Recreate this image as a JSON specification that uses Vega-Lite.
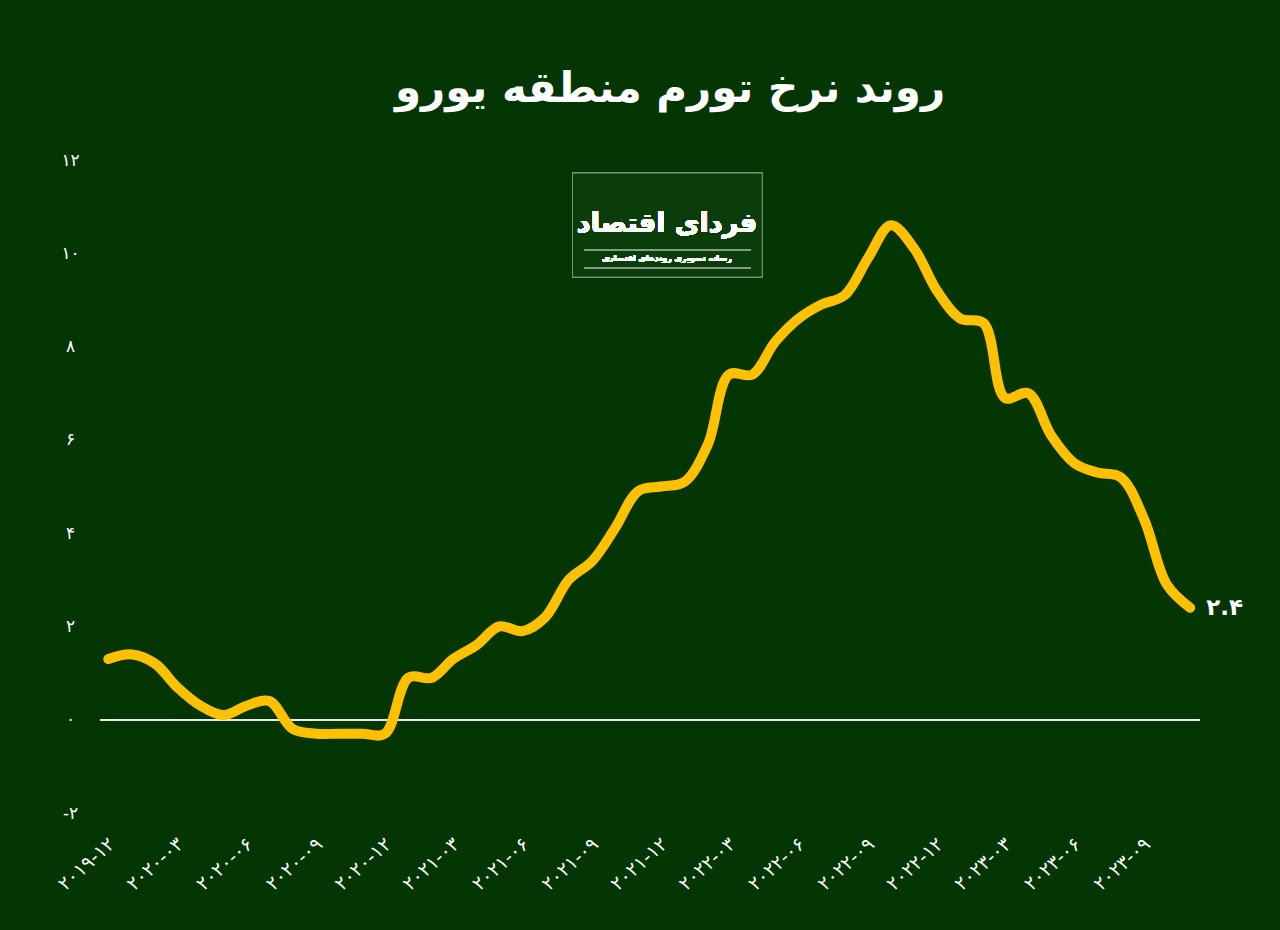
{
  "$schema": "https://vega.github.io/schema/vega-lite/v6.json",
  "width": 1100,
  "height": 653,
  "autosize": {"type": "none"},
  "padding": {"left": 100, "top": 160, "right": 80, "bottom": 117},
  "background": "#033603",
  "title": {
    "text": "روند نرخ تورم منطقه یورو",
    "font": "DejaVu Sans",
    "fontSize": 42,
    "fontWeight": "bold",
    "color": "#ffffff",
    "anchor": "middle",
    "offset": 40,
    "dx": 20
  },
  "config": {
    "view": {"stroke": null}
  },
  "data": {
    "values": [
      {"month": "2019-12-01", "value": 1.3},
      {"month": "2020-01-01", "value": 1.4},
      {"month": "2020-02-01", "value": 1.2},
      {"month": "2020-03-01", "value": 0.7},
      {"month": "2020-04-01", "value": 0.3},
      {"month": "2020-05-01", "value": 0.1},
      {"month": "2020-06-01", "value": 0.3},
      {"month": "2020-07-01", "value": 0.4},
      {"month": "2020-08-01", "value": -0.2},
      {"month": "2020-09-01", "value": -0.3},
      {"month": "2020-10-01", "value": -0.3},
      {"month": "2020-11-01", "value": -0.3},
      {"month": "2020-12-01", "value": -0.3},
      {"month": "2021-01-01", "value": 0.9},
      {"month": "2021-02-01", "value": 0.9},
      {"month": "2021-03-01", "value": 1.3},
      {"month": "2021-04-01", "value": 1.6},
      {"month": "2021-05-01", "value": 2.0},
      {"month": "2021-06-01", "value": 1.9},
      {"month": "2021-07-01", "value": 2.2},
      {"month": "2021-08-01", "value": 3.0},
      {"month": "2021-09-01", "value": 3.4},
      {"month": "2021-10-01", "value": 4.1},
      {"month": "2021-11-01", "value": 4.9},
      {"month": "2021-12-01", "value": 5.0},
      {"month": "2022-01-01", "value": 5.1},
      {"month": "2022-02-01", "value": 5.9},
      {"month": "2022-03-01", "value": 7.4},
      {"month": "2022-04-01", "value": 7.4},
      {"month": "2022-05-01", "value": 8.1},
      {"month": "2022-06-01", "value": 8.6},
      {"month": "2022-07-01", "value": 8.9},
      {"month": "2022-08-01", "value": 9.1},
      {"month": "2022-09-01", "value": 9.9},
      {"month": "2022-10-01", "value": 10.6},
      {"month": "2022-11-01", "value": 10.1},
      {"month": "2022-12-01", "value": 9.2},
      {"month": "2023-01-01", "value": 8.6},
      {"month": "2023-02-01", "value": 8.5},
      {"month": "2023-03-01", "value": 6.9},
      {"month": "2023-04-01", "value": 7.0},
      {"month": "2023-05-01", "value": 6.1},
      {"month": "2023-06-01", "value": 5.5},
      {"month": "2023-07-01", "value": 5.3},
      {"month": "2023-08-01", "value": 5.2},
      {"month": "2023-09-01", "value": 4.3},
      {"month": "2023-10-01", "value": 2.9},
      {"month": "2023-11-01", "value": 2.4}
    ]
  },
  "layer": [
    {
      "mark": {"type": "rect", "fill": "#0a3d0a", "stroke": "#7d907d", "strokeWidth": 1},
      "encoding": {
        "x": {"datum": {"year": 2021, "month": 8, "date": 6, "utc": true}, "type": "temporal"},
        "x2": {"datum": {"year": 2022, "month": 4, "date": 14, "utc": true}},
        "y": {"datum": 11.72, "type": "quantitative"},
        "y2": {"datum": 9.49}
      }
    },
    {
      "mark": {"type": "text", "text": "فردای اقتصاد", "font": "DejaVu Sans", "fontSize": 27, "fontWeight": "bold", "color": "#ffffff", "align": "center", "baseline": "middle"},
      "encoding": {
        "x": {"datum": {"year": 2021, "month": 12, "date": 9, "utc": true}, "type": "temporal"},
        "y": {"datum": 10.62, "type": "quantitative"}
      }
    },
    {
      "mark": {"type": "rule", "color": "#8a9a8a", "strokeWidth": 1},
      "encoding": {
        "x": {"datum": {"year": 2021, "month": 8, "date": 22, "utc": true}, "type": "temporal"},
        "x2": {"datum": {"year": 2022, "month": 3, "date": 30, "utc": true}},
        "y": {"datum": 10.07, "type": "quantitative"}
      }
    },
    {
      "mark": {"type": "rule", "color": "#8a9a8a", "strokeWidth": 1},
      "encoding": {
        "x": {"datum": {"year": 2021, "month": 8, "date": 22, "utc": true}, "type": "temporal"},
        "x2": {"datum": {"year": 2022, "month": 3, "date": 30, "utc": true}},
        "y": {"datum": 9.68, "type": "quantitative"}
      }
    },
    {
      "mark": {"type": "text", "text": "رسانه تصویری روندهای اقتصادی", "font": "DejaVu Sans", "fontSize": 8, "fontWeight": "bold", "color": "#ffffff", "align": "center", "baseline": "middle"},
      "encoding": {
        "x": {"datum": {"year": 2021, "month": 12, "date": 9, "utc": true}, "type": "temporal"},
        "y": {"datum": 9.88, "type": "quantitative"}
      }
    },
    {
      "mark": {"type": "rule", "color": "#e6ece6", "strokeWidth": 1.5},
      "encoding": {
        "y": {"datum": 0, "type": "quantitative"}
      }
    },
    {
      "mark": {"type": "line", "color": "#FFC000", "strokeWidth": 10, "interpolate": "catmull-rom", "strokeCap": "round", "strokeJoin": "round"},
      "encoding": {
        "x": {
          "field": "month",
          "type": "temporal",
          "scale": {
            "type": "utc",
            "domain": [
              {"year": 2019, "month": 11, "date": 20, "utc": true},
              {"year": 2023, "month": 11, "date": 14, "utc": true}
            ]
          },
          "axis": {
            "title": null,
            "domain": false,
            "ticks": false,
            "grid": false,
            "values": [
              {"year": 2019, "month": 12, "date": 1, "utc": true},
              {"year": 2020, "month": 3, "date": 1, "utc": true},
              {"year": 2020, "month": 6, "date": 1, "utc": true},
              {"year": 2020, "month": 9, "date": 1, "utc": true},
              {"year": 2020, "month": 12, "date": 1, "utc": true},
              {"year": 2021, "month": 3, "date": 1, "utc": true},
              {"year": 2021, "month": 6, "date": 1, "utc": true},
              {"year": 2021, "month": 9, "date": 1, "utc": true},
              {"year": 2021, "month": 12, "date": 1, "utc": true},
              {"year": 2022, "month": 3, "date": 1, "utc": true},
              {"year": 2022, "month": 6, "date": 1, "utc": true},
              {"year": 2022, "month": 9, "date": 1, "utc": true},
              {"year": 2022, "month": 12, "date": 1, "utc": true},
              {"year": 2023, "month": 3, "date": 1, "utc": true},
              {"year": 2023, "month": 6, "date": 1, "utc": true},
              {"year": 2023, "month": 9, "date": 1, "utc": true}
            ],
            "labelExpr": "replace(replace(replace(replace(replace(replace(replace(replace(replace(replace(utcFormat(datum.value, '%Y-%m'), regexp('0','g'), '۰'), regexp('1','g'), '۱'), regexp('2','g'), '۲'), regexp('3','g'), '۳'), regexp('4','g'), '۴'), regexp('5','g'), '۵'), regexp('6','g'), '۶'), regexp('7','g'), '۷'), regexp('8','g'), '۸'), regexp('9','g'), '۹')",
            "labelAngle": -42,
            "labelAlign": "right",
            "labelBaseline": "middle",
            "labelPadding": 28,
            "labelOffset": 3,
            "labelColor": "#ffffff",
            "labelFont": "DejaVu Sans",
            "labelFontSize": 19,
            "labelOverlap": false,
            "labelBound": false,
            "labelFlush": false
          }
        },
        "y": {
          "field": "value",
          "type": "quantitative",
          "scale": {"domain": [-2, 12], "nice": false, "zero": false},
          "axis": {
            "title": null,
            "domain": false,
            "ticks": false,
            "grid": false,
            "values": [-2, 0, 2, 4, 6, 8, 10, 12],
            "labelExpr": "replace(replace(replace(replace(replace(replace(replace(replace(replace(replace(toString(datum.value), regexp('0','g'), '۰'), regexp('1','g'), '۱'), regexp('2','g'), '۲'), regexp('3','g'), '۳'), regexp('4','g'), '۴'), regexp('5','g'), '۵'), regexp('6','g'), '۶'), regexp('7','g'), '۷'), regexp('8','g'), '۸'), regexp('9','g'), '۹')",
            "labelAlign": "center",
            "labelPadding": 30,
            "labelColor": "#ffffff",
            "labelFont": "DejaVu Sans",
            "labelFontSize": 17,
            "labelFlush": false
          }
        }
      }
    },
    {
      "transform": [
        {"filter": "datum.value == 2.4"},
        {"calculate": "replace(replace(toString(datum.value), '2', '۲'), '4', '۴')", "as": "fa"}
      ],
      "mark": {"type": "text", "align": "left", "baseline": "middle", "dx": 16, "font": "DejaVu Sans", "fontSize": 23, "fontWeight": "bold", "color": "#ffffff"},
      "encoding": {
        "x": {"field": "month", "type": "temporal"},
        "y": {"field": "value", "type": "quantitative"},
        "text": {"field": "fa"}
      }
    }
  ]
}
